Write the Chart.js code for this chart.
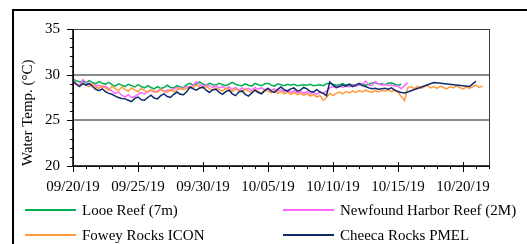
<!DOCTYPE html>
<html>
<head>
<meta charset="utf-8">
<script src="https://cdn.jsdelivr.net/npm/chart.js@4.4.1/dist/chart.umd.min.js"></script>
<style>
  html,body{margin:0;padding:0;background:#fff;}
  body{width:527px;height:244px;position:relative;overflow:hidden;font-family:'Liberation Serif','Times New Roman',serif;}
  #frame{position:absolute;left:12px;top:9px;width:620px;height:320px;border:2px solid #000;}
  #wrap{position:absolute;left:0;top:0;width:527px;height:244px;}
  .lg{position:absolute;font-size:15px;line-height:18px;color:#000;white-space:nowrap;}
  .lg i{position:absolute;top:8px;height:2px;}
</style>
</head>
<body>
<div id="frame"></div>
<div id="wrap"><canvas id="c" width="527" height="244"></canvas></div>
<div id="legend"></div>
<script>
// water temperature, 6-hourly readings starting 09/20/19
const STEP = 0.25; // days
const dateLabels = ['09/20/19','09/25/19','09/30/19','10/05/19','10/10/19','10/15/19','10/20/19'];
const seriesNames = ['Looe Reef (7m)','Newfound Harbor Reef (2M)','Fowey Rocks ICON','Cheeca Rocks PMEL'];
const seriesColors = ['#00b050','#ff66ff','#ff9a3c','#0d2a6b'];

const looe = [
  29.50,29.35,29.20,29.30, 29.10,29.35,29.15,29.00, 29.25,29.05,28.95,29.15, 28.90,28.75,29.00,28.85,
  28.70,28.95,28.80,28.65, 28.90,28.70,28.55,28.80, 28.60,28.45,28.70,28.50, 28.60,28.85,28.60,28.55,
  28.80,28.65,28.60,28.90, 29.05,28.85,29.00,29.20, 28.95,28.85,29.05,28.90, 28.85,29.05,28.90,28.80,
  28.95,29.15,28.95,28.85, 28.80,29.00,28.85,28.75, 29.05,28.90,28.80,29.00, 29.05,28.85,28.75,29.00,
  28.90,28.80,28.95,28.85, 28.95,28.80,28.85,28.90, 28.85,28.95,28.80,28.85, 28.90,28.80,29.00,29.05,
  28.95,28.85,28.90,29.00, 28.85,28.95,28.90,28.85, 28.90,29.00,28.85,28.95, 29.10,29.15,28.95,29.00,
  28.90,29.05,29.10,28.95, 28.85,28.95
];
const newfound = [
  29.40,29.05,28.80,29.45, 29.20,28.90,29.00,28.75, 28.85,28.60,28.75,28.45, 28.20,27.95,28.10,27.75,
  27.55,27.80,27.50,27.60, 27.85,28.05,27.90,28.15, 28.30,28.05,28.25,28.40, 28.15,28.35,28.25,28.45,
  28.60,28.40,28.55,28.70, 28.55,28.85,29.25,28.90, 28.70,28.90,28.75,28.60, 28.80,28.55,28.70,28.45,
  28.65,28.40,28.60,28.30, 28.55,28.35,28.50,28.25, 28.60,28.40,28.55,28.35, 28.50,28.30,28.45,28.20,
  28.35,28.15,28.30,28.05, 28.25,28.00,28.15,27.95, 28.15,27.90,28.10,27.85, 28.10,27.95,28.20,28.55,
  28.70,28.55,28.75,28.60, 28.80,28.65,28.90,28.70, 28.85,28.95,29.30,28.85, 28.80,29.25,29.00,28.85,
  28.95,28.80,28.90,28.75, 28.75,28.45,28.80,29.15
];
const fowey = [
  29.20,28.95,28.75,29.05, 28.85,28.70,28.95,28.65, 28.50,28.80,28.55,28.30, 28.75,28.45,28.25,28.65,
  28.40,28.20,28.55,28.30, 28.15,28.50,28.25,28.10, 28.35,28.20,28.05,28.40, 28.20,28.05,28.35,28.15,
  28.30,28.55,28.35,28.50, 28.70,28.55,28.90,28.65, 28.50,28.75,28.45,28.30, 28.55,28.35,28.20,28.50,
  28.40,28.15,28.45,28.25, 28.10,28.40,28.20,28.05, 28.35,28.15,28.00,28.30, 28.20,28.00,28.25,27.95,
  28.15,27.90,28.10,27.85, 28.05,27.80,27.95,27.75, 27.90,27.65,27.85,27.55, 27.70,27.20,27.50,27.95,
  27.70,27.95,28.10,27.90, 28.15,28.00,28.20,28.05, 28.25,28.10,28.30,28.15, 28.05,28.25,28.10,28.30,
  28.20,28.35,28.15,28.30, 28.10,27.60,27.15,28.55, 28.70,28.45,28.75,28.50, 28.65,28.85,28.55,28.70,
  28.50,28.75,28.60,28.45, 28.70,28.55,28.80,28.60, 28.45,28.65,28.50,28.70, 28.85,28.60,28.75
];
const cheeca = [
  29.30,28.95,28.70,29.05, 28.85,29.05,28.70,28.40, 28.25,28.45,28.15,27.95, 27.85,27.65,27.50,27.40,
  27.35,27.20,27.05,27.40, 27.55,27.25,27.20,27.50, 27.75,27.45,27.35,27.70, 27.90,27.60,27.50,27.85,
  28.10,27.85,27.80,28.15, 28.65,28.45,28.30,28.55, 28.65,28.30,28.05,28.35, 28.40,28.05,27.85,28.15,
  28.30,27.90,27.70,28.10, 28.25,27.85,27.65,28.00, 28.30,28.05,27.90,28.25, 28.50,28.20,28.05,28.40,
  28.65,28.35,28.20,28.45, 28.55,28.20,28.30,28.60, 28.45,28.15,28.10,28.35, 28.10,27.95,27.70,29.20,
  28.85,28.60,28.70,28.90, 28.75,28.95,28.70,28.85, 29.05,28.80,28.70,28.55, 28.45,28.50,28.40,28.45,
  28.50,28.40,28.55,28.30, 28.15,28.05,28.00,28.10,
  null,null,null,null, null,null,null,29.15, null,null,null,null, null,null,null,null,
  null,null,28.70,null, 29.30
];
const seriesValues = [looe, newfound, fowey, cheeca];

const toPoints = arr => arr.map((v,i) => ({x: i*STEP, y: v}));
const FONT = "'Liberation Serif','Times New Roman',serif";
Chart.defaults.font.family = FONT;
Chart.defaults.font.size = 15;
Chart.defaults.color = '#000';

// minor ticks + plot frame
const axisMarks = {
  id: 'axisMarks',
  afterDraw(chart){
    const {ctx, chartArea:a, scales:{x, y}} = chart;
    ctx.save();
    ctx.strokeStyle = '#3a3a3a'; ctx.lineWidth = 1;
    ctx.strokeRect(a.left+0.5, a.top+0.5, a.right-a.left, a.bottom-a.top);
    ctx.strokeStyle = '#000';
    ctx.beginPath();
    for(let d=x.min; d<=x.max; d++){
      const px = Math.round(x.getPixelForValue(d))+0.5, major = d%5===0;
      ctx.moveTo(px, a.bottom-(major?4:0)); ctx.lineTo(px, a.bottom+(major?6:3));
    }
    for(let v=y.min; v<=y.max; v++){
      const py = Math.round(y.getPixelForValue(v))+0.5, major = v%5===0;
      ctx.moveTo(a.left-(major?6:3), py); ctx.lineTo(a.left, py);
    }
    ctx.stroke();
    ctx.lineWidth = 1.5;
    ctx.beginPath();
    ctx.moveTo(a.left, a.top); ctx.lineTo(a.left, a.bottom); ctx.lineTo(a.right, a.bottom);
    ctx.stroke();
    ctx.restore();
  }
};

new Chart(document.getElementById('c'), {
  type: 'line',
  data: {
    datasets: seriesValues.map((vals,i) => ({
      label: seriesNames[i],
      data: toPoints(vals),
      borderColor: seriesColors[i],
      backgroundColor: seriesColors[i],
      borderWidth: 1.5,
      pointRadius: 0,
      tension: 0,
      spanGaps: true,
      order: 3-i
    }))
  },
  options: {
    responsive: false,
    animation: false,
    events: [],
    layout: {padding: {left: 0, top: 29, right: 38, bottom: 0}},
    plugins: {legend: {display: false}, tooltip: {enabled: false}},
    scales: {
      x: {
        type: 'linear', min: 0, max: 32,
        afterFit(s){ s.height = 78; },
        border: {display: false},
        grid: {display: false, drawTicks: false},
        ticks: {
          stepSize: 5, autoSkip: false, maxRotation: 0, padding: 12,
          callback: v => dateLabels[v/5] ?? ''
        }
      },
      y: {
        min: 20, max: 35,
        afterFit(s){ s.width = 73; },
        border: {display: false},
        grid: {
          drawTicks: false,
          color: c => (c.tick && (c.tick.value === 25 || c.tick.value === 30)) ? '#8a8a8a' : 'rgba(0,0,0,0)',
          lineWidth: 2
        },
        ticks: {stepSize: 5, padding: 13},
        title: {
          display: true, text: 'Water Temp. (°C)', align: 'start',
          font: {size: 15}, padding: {top: 19, bottom: 0}
        }
      }
    }
  },
  plugins: [axisMarks]
});

// legend, two columns
const lgCols = [25, 283], lgRows = [201, 226];
document.getElementById('legend').innerHTML = seriesNames.map((n,i) => {
  const left = lgCols[i%2], top = lgRows[Math.floor(i/2)];
  return `<div class="lg" style="left:${left}px;top:${top}px;padding-left:57px">
    <i style="left:0;width:51px;background:${seriesColors[i]}"></i>${n}</div>`;
}).join('');
</script>
</body>
</html>
